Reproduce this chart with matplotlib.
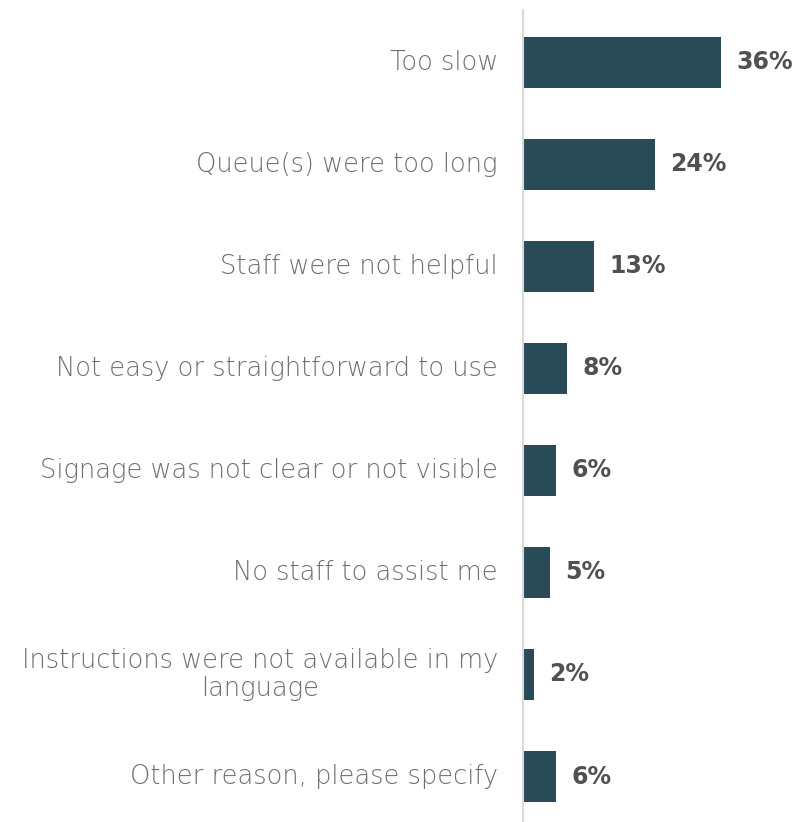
import matplotlib.pyplot as plt
from matplotlib.transforms import blended_transform_factory

reasons = [
    "Too slow",
    "Queue(s) were too long",
    "Staff were not helpful",
    "Not easy or straightforward to use",
    "Signage was not clear or not visible",
    "No staff to assist me",
    "Instructions were not available in my\nlanguage",
    "Other reason, please specify",
]
pct = [36, 24, 13, 8, 6, 5, 2, 6]

bar_color = "#284b57"
label_color = "#6e6e6e"
value_color = "#505050"

plt.rcParams['font.family'] = ['DejaVu Sans']

fig = plt.figure(figsize=(7.98, 8.22), dpi=100)
ax = fig.add_axes([0.655, 0.0, 0.345, 0.988])

y = list(range(len(reasons)))
ax.barh(y, pct, height=0.5, color=bar_color)

ax.set_xlim(0, 50)
ax.set_ylim(7.446, -0.515)

trans = blended_transform_factory(ax.transAxes, ax.transData)
for yi, name, v in zip(y, reasons, pct):
    ax.text(-0.09, yi, name, transform=trans, ha="right", va="center",
            multialignment="center", fontsize=18.5, color=label_color,
            fontweight="light", linespacing=1.15)
    ax.annotate(f"{v}%", (v, yi), xytext=(11, 0), textcoords="offset points",
                ha="left", va="center", fontsize=17, fontweight="bold",
                color=value_color)

for s in ["top", "right", "bottom"]:
    ax.spines[s].set_visible(False)
ax.spines["left"].set_color("#d9d9d9")
ax.spines["left"].set_linewidth(1.5)
ax.set_xticks([])
ax.set_yticks([])

fig.savefig("out.png", dpi=100)
